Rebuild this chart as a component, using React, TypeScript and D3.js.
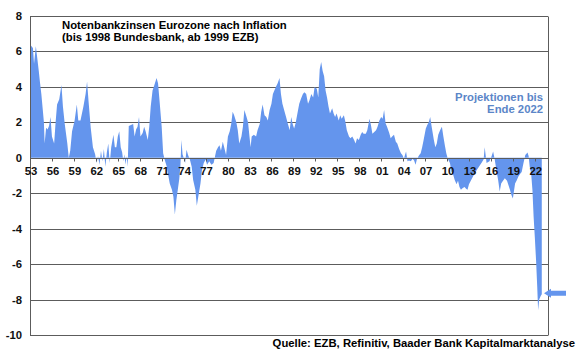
import React from "react";
import * as d3 from "d3";

// Real central bank rate (Bundesbank until 1998, ECB from 1999) minus inflation, %
const realRateSeries: [number, number][] = [
  [1953.0, 6.4], [1953.2, 6.3], [1953.4, 6.2], [1953.55, 5.3], [1953.8, 6.3], [1954.0, 5.6],
  [1954.2, 4.9], [1954.35, 4.3], [1954.55, 3.6], [1954.75, 2.7], [1954.9, 2.0], [1955.0, 0.8],
  [1955.2, 1.7], [1955.4, 1.6], [1955.6, 1.8], [1955.8, 2.3], [1956.0, 1.2], [1956.3, 0.8],
  [1956.5, 2.0], [1956.7, 3.0], [1957.0, 3.3], [1957.3, 4.1], [1957.5, 2.9], [1957.75, 1.9],
  [1958.1, 0.8], [1958.3, 0.0], [1958.5, 0.4], [1958.75, 1.5], [1959.1, 2.1], [1959.4, 3.0],
  [1959.6, 2.1], [1959.9, 2.1], [1960.3, 2.9], [1960.6, 3.6], [1960.8, 4.3], [1961.0, 3.2],
  [1961.3, 1.7], [1961.6, 0.6], [1961.9, 0.2], [1962.1, -0.3], [1962.3, 0.1], [1962.5, -0.4],
  [1962.7, 0.4], [1962.9, -0.2], [1963.1, 0.5], [1963.3, -0.5], [1963.5, 0.3], [1963.7, 0.8],
  [1963.9, -0.3], [1964.1, 0.6], [1964.4, 1.3], [1964.6, 0.6], [1964.8, 0.6], [1965.0, 1.2],
  [1965.2, 1.5], [1965.4, 0.6], [1965.6, 0.3], [1965.75, -0.2], [1965.9, 0.2], [1966.05, -0.4],
  [1966.2, 0.1], [1966.35, -0.5], [1966.5, 1.8], [1966.8, 1.85], [1967.1, 1.9], [1967.3, 1.2],
  [1967.5, 1.6], [1967.7, 1.75], [1967.9, 2.3], [1968.1, 1.2], [1968.4, 1.4], [1968.6, 1.75],
  [1968.8, 1.5], [1969.1, 1.0], [1969.3, 1.75], [1969.5, 2.9], [1969.75, 3.8], [1970.0, 4.1],
  [1970.3, 4.5], [1970.5, 4.2], [1970.7, 3.25], [1971.0, 1.75], [1971.2, 0.25], [1971.4, -0.1],
  [1971.7, -0.5], [1971.9, -1.0], [1972.1, -1.45], [1972.4, -1.8], [1972.6, -2.2], [1972.8, -3.2],
  [1973.0, -2.4], [1973.2, -1.8], [1973.4, -1.2], [1973.55, -0.5], [1973.7, 1.0], [1973.85, 0.2],
  [1974.0, 0.0], [1974.2, -0.3], [1974.4, 0.45], [1974.6, 0.15], [1974.85, -0.1], [1975.1, -0.5],
  [1975.3, -1.25], [1975.6, -1.8], [1975.8, -2.7], [1976.0, -2.2], [1976.3, -1.45], [1976.5, -0.7],
  [1976.75, -0.3], [1977.0, -0.1], [1977.2, -0.4], [1977.5, -0.2], [1977.8, -0.4], [1978.1, -0.3],
  [1978.3, 0.1], [1978.45, 0.4], [1978.7, 0.6], [1978.9, 0.7], [1979.1, 0.4], [1979.35, 0.9],
  [1979.6, 0.5], [1979.8, 0.15], [1980.05, 1.2], [1980.3, 1.5], [1980.5, 1.9], [1980.7, 2.6],
  [1980.9, 2.4], [1981.2, 2.0], [1981.4, 1.55], [1981.6, 0.8], [1981.9, 1.2], [1982.1, 1.75],
  [1982.3, 2.7], [1982.6, 2.3], [1982.8, 2.0], [1983.0, 1.2], [1983.15, 0.6], [1983.3, 1.2],
  [1983.6, 1.3], [1983.9, 1.2], [1984.1, 1.55], [1984.4, 1.9], [1984.6, 2.6], [1984.8, 3.0],
  [1985.05, 2.4], [1985.3, 2.3], [1985.5, 2.1], [1985.75, 2.7], [1986.0, 3.05], [1986.2, 3.6],
  [1986.4, 3.8], [1986.6, 4.0], [1986.85, 4.2], [1987.1, 4.5], [1987.3, 3.6], [1987.5, 3.05],
  [1987.8, 2.6], [1988.0, 2.3], [1988.25, 1.9], [1988.5, 1.55], [1988.7, 2.3], [1988.9, 1.9],
  [1989.1, 1.65], [1989.3, 1.95], [1989.55, 2.5], [1989.8, 3.05], [1990.05, 3.35], [1990.3, 3.6],
  [1990.5, 3.7], [1990.75, 3.6], [1991.0, 3.05], [1991.2, 3.25], [1991.45, 3.6], [1991.7, 3.4],
  [1991.9, 4.0], [1992.2, 3.9], [1992.4, 3.4], [1992.6, 5.0], [1992.8, 5.4], [1993.0, 4.9],
  [1993.2, 4.6], [1993.4, 3.8], [1993.6, 3.4], [1993.8, 2.9], [1994.0, 2.5], [1994.3, 2.8],
  [1994.5, 2.5], [1994.7, 2.3], [1994.9, 2.5], [1995.2, 2.1], [1995.4, 2.4], [1995.6, 2.2],
  [1995.9, 2.4], [1996.1, 2.05], [1996.3, 1.55], [1996.6, 1.2], [1996.8, 1.1], [1997.05, 1.2],
  [1997.3, 1.0], [1997.5, 0.8], [1997.7, 1.1], [1997.95, 1.0], [1998.2, 1.3], [1998.4, 1.45],
  [1998.6, 1.35], [1998.9, 1.35], [1999.1, 1.55], [1999.4, 2.2], [1999.6, 1.85], [1999.8, 1.35],
  [2000.05, 1.45], [2000.3, 1.55], [2000.5, 1.75], [2000.75, 2.1], [2001.0, 2.3], [2001.2, 2.2],
  [2001.4, 2.7], [2001.6, 1.95], [2001.8, 1.75], [2002.1, 1.4], [2002.3, 1.1], [2002.5, 1.2],
  [2002.75, 1.3], [2003.0, 0.9], [2003.2, 0.8], [2003.45, 0.5], [2003.7, 0.25], [2003.9, 0.15],
  [2004.1, -0.05], [2004.4, 0.35], [2004.6, -0.2], [2004.8, -0.15], [2005.05, -0.2], [2005.3, -0.05],
  [2005.5, -0.15], [2005.7, -0.4], [2005.9, -0.05], [2006.2, 0.15], [2006.4, 0.25], [2006.6, 0.6],
  [2006.8, 1.0], [2007.1, 1.65], [2007.3, 1.85], [2007.5, 2.0], [2007.7, 2.3], [2007.9, 1.75],
  [2008.2, 1.0], [2008.4, 0.6], [2008.6, 0.8], [2008.8, 1.3], [2009.05, 1.55], [2009.3, 1.75],
  [2009.5, 1.2], [2009.7, 0.7], [2009.9, 0.25], [2010.1, -0.05], [2010.4, -0.3], [2010.6, -0.8],
  [2010.8, -0.9], [2011.05, -1.25], [2011.3, -1.5], [2011.5, -1.3], [2011.7, -1.65], [2011.9, -1.8],
  [2012.15, -1.7], [2012.4, -1.65], [2012.6, -1.75], [2012.8, -1.8], [2013.0, -1.5], [2013.3, -1.25],
  [2013.75, -0.9], [2014.2, -0.6], [2014.7, -0.3], [2015.0, -0.1], [2015.15, 0.6], [2015.4, -0.3],
  [2015.8, -0.2], [2016.1, 0.1], [2016.3, 0.35], [2016.5, -0.05], [2016.75, -0.7], [2017.0, -1.3],
  [2017.2, -1.9], [2017.4, -1.45], [2017.65, -1.3], [2017.9, -1.15], [2018.2, -1.3], [2018.4, -1.55],
  [2018.6, -1.8], [2018.8, -2.1], [2019.0, -2.3], [2019.3, -1.45], [2019.5, -1.3], [2019.75, -1.05],
  [2020.0, -0.9], [2020.2, -0.8], [2020.45, -0.3], [2020.7, 0.15], [2021.0, 0.3], [2021.15, 0.1],
  [2021.3, -0.5], [2021.5, -0.9], [2021.67, -1.8], [2021.83, -3.3], [2022.0, -4.5], [2022.17, -5.8],
  [2022.33, -7.3], [2022.45, -8.6], [2022.6, -8.0], [2022.8, -7.8], [2022.95, -7.7],
];

const yTicks = [8, 6, 4, 2, 0, -2, -4, -6, -8, -10];
const xTickYears = [1953, 1956, 1959, 1962, 1965, 1968, 1971, 1974, 1977, 1980, 1983, 1986, 1989,
  1992, 1995, 1998, 2001, 2004, 2007, 2010, 2013, 2016, 2019, 2022];
const projectionValue = -7.65;

const titleLines = ["Notenbankzinsen Eurozone nach Inflation", "(bis 1998 Bundesbank, ab 1999 EZB)"];
const projectionLines = ["Projektionen bis", "Ende 2022"];
const sourceText = "Quelle: EZB, Refinitiv, Baader Bank Kapitalmarktanalyse";

const W = 580;
const H = 359;
const FONT = "'Liberation Sans', Arial, Helvetica, sans-serif";
const FILL = "#6495ed";
const GRID = "#5c5c5c";
const TEXT_BLUE = "#5b86c8";

export default function App() {
  const x = d3.scaleLinear().domain([1953, 2023.8]).range([30, 548]);
  const y = d3.scaleLinear().domain([-10, 8]).range([335, 16]);
  const px = (v: number) => Math.round(v) + 0.5;

  const area = d3
    .area<[number, number]>()
    .x((d) => x(d[0]))
    .y0(y(0))
    .y1((d) => y(d[1]));

  const y0 = px(y(0));
  const ay = y(projectionValue);
  const ax = 544;

  return (
    <svg
      width={W}
      height={H}
      style={{ position: "absolute", left: 0, top: 0, background: "#fff" }}
      fontFamily={FONT}
      fontWeight="bold"
    >
      <rect x={0} y={0} width={W} height={H} fill="#fff" />
      {yTicks.map((t) => (
        <line key={"g" + t} x1={30} x2={548} y1={px(y(t))} y2={px(y(t))} stroke={GRID} strokeWidth={1} />
      ))}
      <path d={area(realRateSeries) || ""} fill={FILL} />
      <line x1={30} x2={548} y1={y0} y2={y0} stroke={GRID} strokeWidth={1} />
      <line x1={px(30)} x2={px(30)} y1={px(y(8))} y2={px(y(-10))} stroke={GRID} strokeWidth={1} />
      <line x1={px(548)} x2={px(548)} y1={px(y(8))} y2={px(y(-10))} stroke={GRID} strokeWidth={1} />
      {xTickYears.map((yr) => (
        <g key={"x" + yr}>
          <line x1={px(x(yr))} x2={px(x(yr))} y1={y0} y2={y0 + 3} stroke={GRID} strokeWidth={1} />
          <text x={x(yr) + 1} y={175} textAnchor="middle" fontSize={11.3} fill="#111">
            {String(yr).slice(2)}
          </text>
        </g>
      ))}
      {yTicks.map((t) => (
        <text key={"yl" + t} x={22} y={y(t) + 4} textAnchor="end" fontSize={11.3} fill="#111">
          {t}
        </text>
      ))}
      {titleLines.map((s, i) => (
        <text key={"t" + i} x={62} y={29.3 + i * 11.4} fontSize={11.3} fill="#000">
          {s}
        </text>
      ))}
      {projectionLines.map((s, i) => (
        <text key={"p" + i} x={543} y={100.8 + i * 12.6} textAnchor="end" fontSize={11.3} fill={TEXT_BLUE}>
          {s}
        </text>
      ))}
      <text x={575} y={347} textAnchor="end" fontSize={11.3} fill="#000">
        {sourceText}
      </text>
      <path
        d={`M${ax},${ay} L${ax + 7},${ay - 4.5} L${ax + 7},${ay - 2.5} L${ax + 22},${ay - 2.5} L${ax + 22},${ay + 2.5} L${ax + 7},${ay + 2.5} L${ax + 7},${ay + 4.5} Z`}
        fill={FILL}
      />
    </svg>
  );
}
